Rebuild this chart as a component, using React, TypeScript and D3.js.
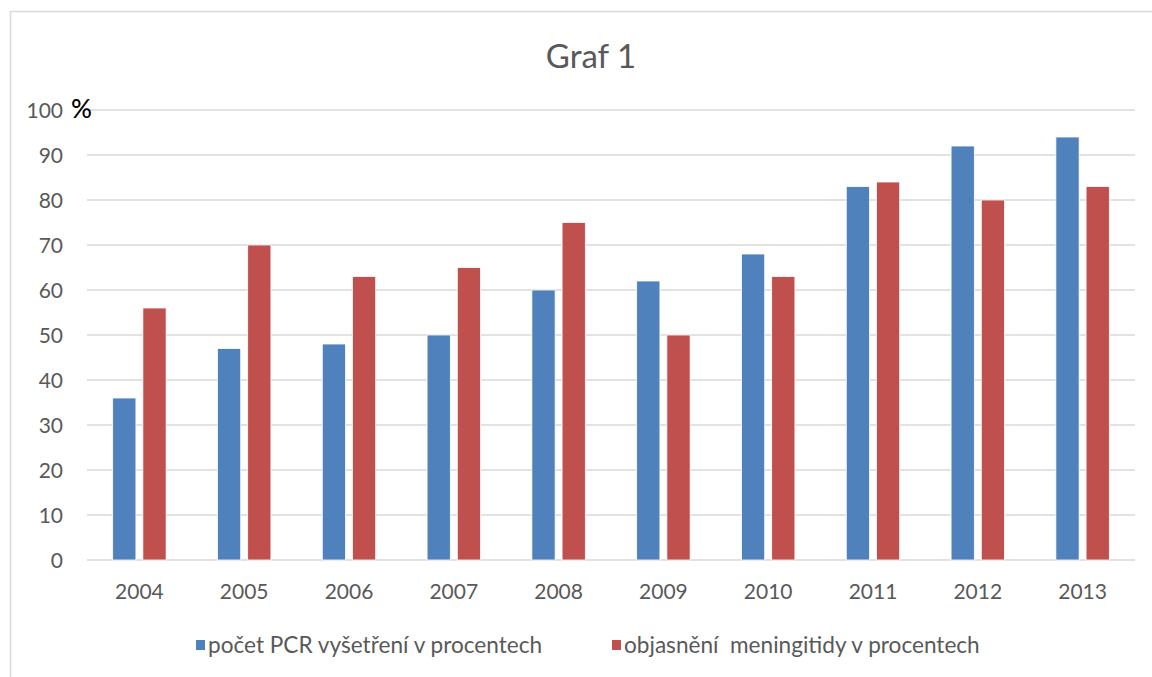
import React, { useEffect, useRef } from "react";
import * as d3 from "d3";

const years = ["2004", "2005", "2006", "2007", "2008", "2009", "2010", "2011", "2012", "2013"];
const pcrValues = [36, 47, 48, 50, 60, 62, 68, 83, 92, 94];
const meningitisValues = [56, 70, 63, 65, 75, 50, 63, 84, 80, 83];
const seriesNames = ["počet PCR vyšetření v procentech", "objasnění  meningitidy v procentech"];
const seriesColors = ["#4f81bd", "#c0504d"];
const yTicks = [0, 10, 20, 30, 40, 50, 60, 70, 80, 90, 100];
const chartTitle = "Graf 1";

const W = 1152;
const H = 677;
const margin = { top: 110, right: 17, bottom: 117, left: 87 };
const FONT = "Lato, 'Open Sans', sans-serif";

export default function App() {
  const ref = useRef<SVGSVGElement>(null);

  useEffect(() => {
    if (!ref.current) return;
    const svg = d3.select(ref.current);
    svg.selectAll("*").remove();

    svg.append("rect").attr("width", W).attr("height", H).attr("fill", "#fff");

    // chart frame (only left and top edges show in the shot)
    svg
      .append("rect")
      .attr("x", 10.5)
      .attr("y", 11.5)
      .attr("width", W + 20)
      .attr("height", H + 20)
      .attr("fill", "none")
      .attr("stroke", "#d9d9d9")
      .attr("stroke-width", 1.5);

    const x0 = d3
      .scaleBand()
      .domain(years)
      .range([margin.left, W - margin.right])
      .paddingInner(0.49)
      .paddingOuter(0.245);

    const x1 = d3
      .scaleBand()
      .domain(["pcr", "men"])
      .range([0, x0.bandwidth()])
      .paddingInner(0.23);

    const y = d3
      .scaleLinear()
      .domain([0, 100])
      .range([H - margin.bottom, margin.top]);

    // gridlines
    svg
      .append("g")
      .selectAll("line")
      .data(yTicks)
      .join("line")
      .attr("x1", margin.left)
      .attr("x2", W - margin.right)
      .attr("y1", (d) => y(d))
      .attr("y2", (d) => y(d))
      .attr("stroke", "#d9d9d9")
      .attr("stroke-width", 1.5);

    // y labels
    svg
      .append("g")
      .selectAll("text")
      .data(yTicks)
      .join("text")
      .attr("x", 63)
      .attr("y", (d) => y(d))
      .attr("dy", "0.36em")
      .attr("text-anchor", "end")
      .attr("fill", "#595959")
      .style("font", `21px ${FONT}`)
      .text((d) => d);

    svg
      .append("text")
      .attr("x", 71)
      .attr("y", y(100))
      .attr("dy", "0.3em")
      .attr("fill", "#000")
      .style("font", `500 26px ${FONT}`)
      .text("%");

    // bars
    const rows = years.map((yr, i) => ({ yr, pcr: pcrValues[i], men: meningitisValues[i] }));
    const g = svg.append("g");
    rows.forEach((r) => {
      [
        { key: "pcr", v: r.pcr, c: seriesColors[0] },
        { key: "men", v: r.men, c: seriesColors[1] },
      ].forEach((b) => {
        g.append("rect")
          .attr("x", (x0(r.yr) ?? 0) + (x1(b.key) ?? 0))
          .attr("y", y(b.v))
          .attr("width", x1.bandwidth())
          .attr("height", y(0) - y(b.v))
          .attr("fill", b.c)
          .attr("stroke", "#fff")
          .attr("stroke-width", 0.8);
      });
    });

    // x labels
    svg
      .append("g")
      .selectAll("text")
      .data(years)
      .join("text")
      .attr("x", (d) => (x0(d) ?? 0) + x0.bandwidth() / 2)
      .attr("y", y(0) + 31)
      .attr("dy", "0.36em")
      .attr("text-anchor", "middle")
      .attr("fill", "#595959")
      .style("font", `21px ${FONT}`)
      .text((d) => d);

    // title
    svg
      .append("text")
      .attr("x", 591)
      .attr("y", 56)
      .attr("dy", "0.36em")
      .attr("text-anchor", "middle")
      .attr("fill", "#595959")
      .style("font", `33px ${FONT}`)
      .text(chartTitle);

    // legend
    const legendX = [196, 612];
    const leg = svg.append("g");
    seriesNames.forEach((name, i) => {
      leg
        .append("rect")
        .attr("x", legendX[i])
        .attr("y", 640)
        .attr("width", 9)
        .attr("height", 10)
        .attr("fill", seriesColors[i]);
      leg
        .append("text")
        .attr("x", legendX[i] + 12)
        .attr("y", 645)
        .attr("dy", "0.36em")
        .attr("fill", "#595959")
        .attr("xml:space", "preserve")
        .style("white-space", "pre")
        .style("font", `22.6px ${FONT}`)
        .text(name);
    });
  }, []);

  return (
    <div style={{ position: "fixed", left: 0, top: 0, width: W, height: H, background: "#fff" }}>
      <svg ref={ref} width={W} height={H} style={{ display: "block" }} />
    </div>
  );
}
